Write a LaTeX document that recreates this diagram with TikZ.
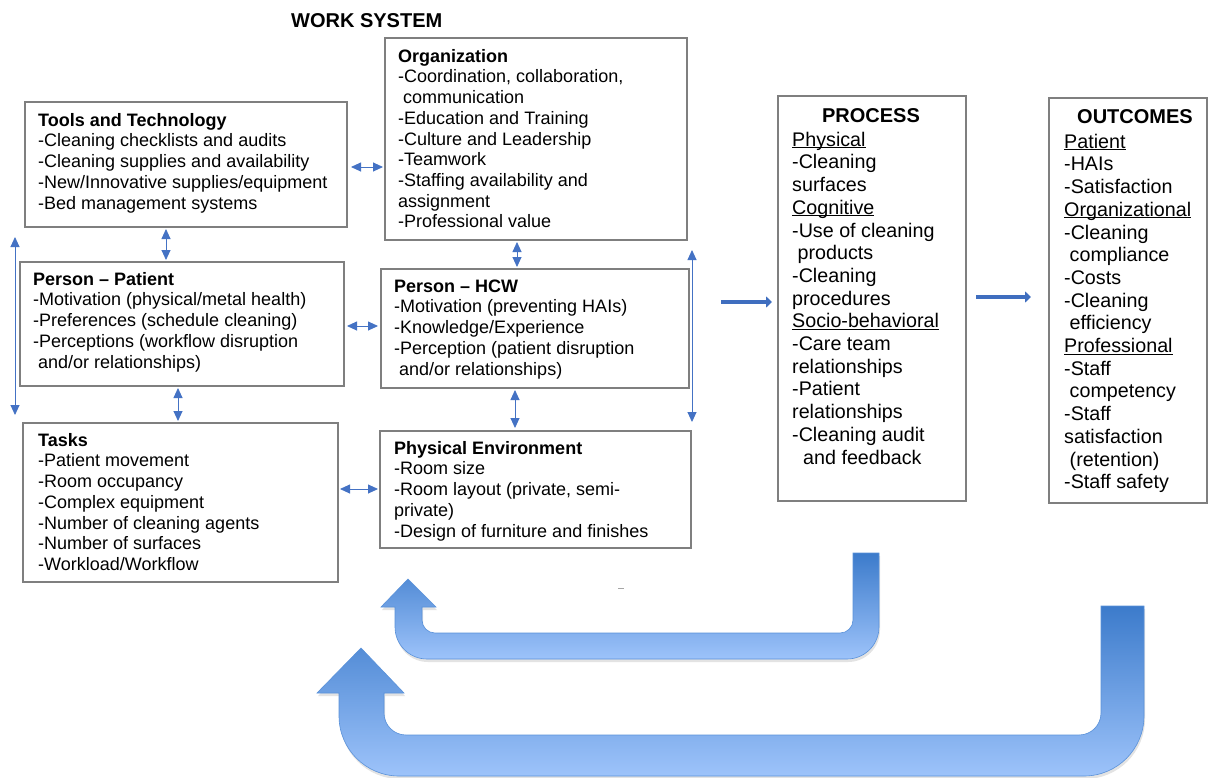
\documentclass[tikz,border=0pt]{standalone}
\usepackage{fontspec}
\setmainfont{Liberation Sans}
\usetikzlibrary{arrows.meta,shadows,calc}
\definecolor{linkblue}{HTML}{4472C4}
\definecolor{flowblue}{HTML}{3F6EBF}
\definecolor{loopdark}{HTML}{3C7BCB}
\definecolor{looplight}{HTML}{9DC3FA}
\definecolor{boxgray}{HTML}{7F7F7F}
% underline that sits just below the baseline, crossing descenders
\newcommand{\undl}[1]{\setbox0\hbox{#1}\rlap{\rule[-2pt]{\wd0}{0.9pt}}#1}
\newcommand{\topln}{\rule{0pt}{14pt}}
\newcommand{\toplnbig}{\rule{0pt}{15pt}}
\begin{document}
\begin{tikzpicture}[x=1pt,y=-1pt,
  box/.style={draw=boxgray, line width=1.2pt, fill=white, inner sep=0pt, outer sep=0pt, anchor=north west},
  txt/.style={inner sep=0pt, anchor=north west, align=left, font=\fontsize{18}{20.7}\selectfont},
  bigtxt/.style={inner sep=0pt, anchor=north west, align=left, font=\fontsize{19.7}{22.7}\selectfont},
  head/.style={inner sep=0pt, font=\fontsize{20}{23}\selectfont\bfseries},
  link/.style={draw=linkblue, line width=0.9pt, {Triangle[length=10pt,width=9pt]}-{Triangle[length=10pt,width=9pt]}, color=linkblue},
  flow/.style={draw=flowblue, line width=4.5pt, -{Triangle[length=6pt,width=11pt]}},
  loop/.style={top color=loopdark, bottom color=looplight, draw=loopdark!70!looplight, line width=0.6pt,
    drop shadow={shadow xshift=1pt, shadow yshift=-3pt, opacity=0.22}}
]
\useasboundingbox (0,0) rectangle (1208,777);
\fill[white] (0,0) rectangle (1208,777);

% ---- title ----
\node[head, anchor=north west] (title) at (291,12) {\toplnbig WORK SYSTEM};

% ---- work system boxes ----
\node[box, minimum width=322pt, minimum height=125pt] (tools)    at (25,102)  {};
\node[box, minimum width=302pt, minimum height=202pt] (org)      at (385,38)  {};
\node[box, minimum width=324pt, minimum height=124pt] (patient)  at (20,262)  {};
\node[box, minimum width=315pt, minimum height=159pt] (tasks)    at (23,423)  {};
\node[box, minimum width=308pt, minimum height=119pt] (hcw)      at (381,269) {};
\node[box, minimum width=311pt, minimum height=117pt] (phys)     at (380,431) {};
\node[box, minimum width=188pt, minimum height=405pt] (process)  at (778,96)  {};
\node[box, minimum width=158pt, minimum height=405pt] (outcomes) at (1049,98) {};

% ---- box texts ----
\node[txt] (toolsT) at (38,112) {\topln\textbf{Tools and Technology}\\-Cleaning checklists and audits\\-Cleaning supplies and availability\\-New/Innovative supplies/equipment\\-Bed management systems};
\node[txt] (orgT) at (398,48) {\topln\textbf{Organization}\\-Coordination, collaboration,\\\hspace*{5pt}communication\\-Education and Training\\-Culture and Leadership\\-Teamwork\\-Staffing availability and\\assignment\\-Professional value};
\node[txt] (patientT) at (33,271) {\topln\textbf{Person – Patient}\\-Motivation (physical/metal health)\\-Preferences (schedule cleaning)\\-Perceptions (workflow disruption\\\hspace*{5pt}and/or relationships)};
\node[txt] (tasksT) at (38,432) {\topln\textbf{Tasks}\\-Patient movement\\-Room occupancy\\-Complex equipment\\-Number of cleaning agents\\-Number of surfaces\\-Workload/Workflow};
\node[txt] (hcwT) at (394,278) {\topln\textbf{Person – HCW}\\-Motivation (preventing HAIs)\\-Knowledge/Experience\\-Perception (patient disruption\\\hspace*{5pt}and/or relationships)};
\node[txt] (physT) at (394,440) {\topln\textbf{Physical Environment}\\-Room size\\-Room layout (private, semi-\\private)\\-Design of furniture and finishes};

\node[head, anchor=north] (procH) at (871,107) {\toplnbig PROCESS};
\node[bigtxt] (procT) at (792,131) {\toplnbig\undl{Physical}\\-Cleaning\\surfaces\\\undl{Cognitive}\\-Use of cleaning\\\hspace*{5.5pt}products\\-Cleaning\\procedures\\\undl{Socio-behavioral}\\-Care team\\relationships\\-Patient\\relationships\\-Cleaning audit\\\hspace*{11pt}and feedback};

\node[head, anchor=north west] (outH) at (1077,108) {\toplnbig OUTCOMES};
\node[bigtxt] (outT) at (1064,133) {\toplnbig\undl{Patient}\\-HAIs\\-Satisfaction\\\undl{Organizational}\\-Cleaning\\\hspace*{5.5pt}compliance\\-Costs\\-Cleaning\\\hspace*{5.5pt}efficiency\\\undl{Professional}\\-Staff\\\hspace*{5.5pt}competency\\-Staff\\satisfaction\\\hspace*{5.5pt}(retention)\\-Staff safety};

% ---- two-way links inside the work system ----
\draw[link, shorten <=4pt, shorten >=2pt] (tools.east |- 0,167) -- (org.west |- 0,167);
\draw[link, shorten <=2pt, shorten >=2pt] (tools.south -| 166,0) -- (patient.north -| 166,0);
\draw[link, shorten <=3pt, shorten >=3pt] (patient.east |- 0,326) -- (hcw.west |- 0,326);
\draw[link, shorten <=2pt, shorten >=2pt] (patient.south -| 178,0) -- (tasks.north -| 178,0);
\draw[link, shorten <=2pt, shorten >=2pt] (tasks.east |- 0,489) -- (phys.west |- 0,489);
\draw[link, shorten <=2pt, shorten >=2pt] (org.south -| 517,0) -- (hcw.north -| 517,0);
\draw[link, shorten <=2pt, shorten >=3pt] (hcw.south -| 515,0) -- (phys.north -| 515,0);
\draw[link, shorten <=10pt, shorten >=8pt] (tools.south -| 15,0) -- (tasks.north -| 15,0);
\draw[link, shorten <=10pt, shorten >=9pt] (org.south -| 692,0) -- (phys.north -| 692,0);

% ---- main flow ----
\draw[flow, shorten <=32pt, shorten >=6pt] (hcw.east |- 0,302) -- (process.west |- 0,302);
\draw[flow, shorten <=10pt, shorten >=18pt] (process.east |- 0,297) -- (outcomes.west |- 0,297);

% ---- feedback loops ----
\path[loop] (853,553) -- (879,553) -- (879,627)
  .. controls (879,644.7) and (864.7,659) .. (847,659)
  -- (427,659) .. controls (409.3,659) and (395,644.7) .. (395,627)
  -- (395,607) -- (381,607) -- (408,579) -- (436,607) -- (422,607)
  -- (422,620) .. controls (422,627.2) and (427.8,633) .. (435,633)
  -- (840,633) .. controls (847.2,633) and (853,627.2) .. (853,620) -- cycle;

\path[loop] (1101,606) -- (1144,606) -- (1144,716)
  .. controls (1144,749.1) and (1117.1,776) .. (1084,776)
  -- (399,776) .. controls (365.9,776) and (339,749.1) .. (339,716)
  -- (339,693) -- (317,693) -- (361,648) -- (404,693) -- (384,693)
  -- (384,713) .. controls (384,725.2) and (393.8,735) .. (406,735)
  -- (1079,735) .. controls (1091.2,735) and (1101,725.2) .. (1101,713) -- cycle;

% stray mark below the boxes
\draw[gray!70, line width=0.8pt] (618,588) -- (624,588);
\end{tikzpicture}
\end{document}
